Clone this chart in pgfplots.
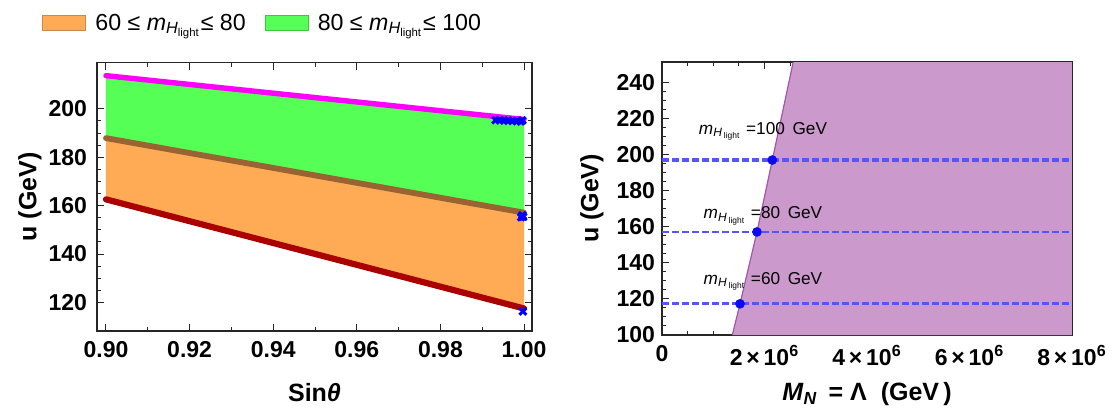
\documentclass[border=0pt]{standalone}
\usepackage{fontspec}
\setmainfont{Liberation Sans}
\usepackage{pgfplots}
\pgfplotsset{compat=1.18}
\definecolor{magL}{RGB}{255,0,255}
\definecolor{greenF}{RGB}{85,255,85}
\definecolor{greenB}{RGB}{60,200,60}
\definecolor{orangeF}{RGB}{255,170,85}
\definecolor{orangeB}{RGB}{205,135,70}
\definecolor{brownL}{RGB}{153,100,50}
\definecolor{redL}{RGB}{170,0,0}
\definecolor{purpF}{RGB}{204,153,204}
\definecolor{purpB}{RGB}{165,85,170}
\definecolor{dashB}{RGB}{85,85,255}
\definecolor{dotB}{RGB}{10,10,240}
\begin{document}
\begin{tikzpicture}
\useasboundingbox (0,0) rectangle (557pt,204.5pt);
\pgfplotsset{
  every axis/.append style={
    scale only axis,
    axis line style={black!85, line width=0.6pt},
    tick style={black!85, line width=0.5pt},
    tick align=inside,
    tick pos=both,
    xticklabel pos=lower, yticklabel pos=left,
    major tick length=3.5pt, minor tick length=2pt,
    ticklabel style={font=\bfseries\fontsize{11.5}{12}\selectfont},
    xticklabel style={yshift=-1.8pt},
    /pgf/number format/assume math mode=true,
    label style={font=\bfseries\fontsize{12.5}{14}\selectfont},
    scaled ticks=false,
  },
}
% ---------------- left panel ----------------
\begin{axis}[
  at={(48.5pt,39pt)}, anchor=south west,
  width=217.5pt, height=134.2pt,
  xmin=0.89785, xmax=1.0019, ymin=108.2, ymax=219.1,
  xtick={0.90,0.92,0.94,0.96,0.98,1.00},
  xticklabels={0.90,0.92,0.94,0.96,0.98,1.00},
  minor x tick num=1,
  ytick={120,140,160,180,200},
  minor y tick num=3,
  yticklabel style={xshift=-1.5pt},
  xlabel={Sin\textit{θ}},
  ylabel={u (GeV)},
  xlabel style={at={(axis description cs:0.5,-0.228)}, anchor=center},
  ylabel style={at={(axis description cs:-0.154,0.5)}, anchor=center},
  legend style={at={(axis description cs:-0.1264,1.146)}, anchor=west,
    draw=none, fill=none, legend columns=2, inner sep=0pt,
    font=\fontsize{11.6}{13}\selectfont,
    nodes={inner xsep=4.5pt},
    /tikz/every even column/.append style={column sep=5pt}},
]
\addlegendimage{legend image code/.code={\draw[fill=orangeF, draw=orangeB, line width=0.5pt] (0pt,-3.75pt) rectangle (21.5pt,3.75pt);}}
\addlegendentry{60 ≤ \textit{m}\textsubscript{\textit{H}\textsubscript{light}}≤ 80}
\addlegendimage{legend image code/.code={\draw[fill=greenF, draw=greenB, line width=0.5pt] (0pt,-3.75pt) rectangle (21.5pt,3.75pt);}}
\addlegendentry{80 ≤ \textit{m}\textsubscript{\textit{H}\textsubscript{light}}≤ 100}
% regions
\addplot[forget plot, fill=greenF, draw=none] coordinates {(0.9,213.7) (1.0,195.6) (1.0,157.1) (0.9,187.9)} -- cycle;
\addplot[forget plot, fill=orangeF, draw=none] coordinates {(0.9,187.9) (1.0,157.1) (1.0,117.5) (0.9,162.6)} -- cycle;
% boundary lines
\addplot[forget plot, magL, line width=2.7pt, line cap=round] coordinates {(0.9,213.7) (0.95,204.65) (1.0,195.6)};
\addplot[forget plot, brownL, line width=2.9pt, line cap=round] coordinates {(0.9,187.9) (0.95,172.5) (1.0,157.1)};
\addplot[forget plot, redL, line width=3.1pt, line cap=round] coordinates {(0.9,162.6) (0.95,140.05) (1.0,117.5)};
% blue crosses
\addplot[forget plot, only marks, mark=x, blue, mark size=2.4pt, line width=1.5pt] coordinates {
 (0.9932,195.3) (0.9942,195.3) (0.9952,195.2) (0.9962,195.1) (0.9972,195.0) (0.9982,194.9) (0.9992,194.8) (0.9996,195.2)
 (0.9993,155.2) (0.9996,156.0) (0.9998,155.4)
 (0.9997,116.3)};
\end{axis}
% ---------------- right panel ----------------
\begin{axis}[
  at={(331pt,37pt)}, anchor=south west,
  width=205pt, height=136.5pt,
  xmin=0, xmax=8e6, ymin=100, ymax=251.5,
  xtick={0,2e6,4e6,6e6,8e6},
  xticklabels={0, 2\,×\,10\textsuperscript{6}, 4\,×\,10\textsuperscript{6}, 6\,×\,10\textsuperscript{6}, 8\,×\,10\textsuperscript{6}},
  minor x tick num=3,
  ytick={100,120,140,160,180,200,220,240},
  minor y tick num=3,
  xlabel={\textit{M}\textsubscript{\textit{N}} \,= Λ \ (GeV\,)},
  ylabel={u (GeV)},
  xlabel style={at={(axis description cs:0.5,-0.218)}, anchor=center},
  ylabel style={at={(axis description cs:-0.171,0.5)}, anchor=center},
  clip=true,
]
\addplot[fill=purpF, draw=none] coordinates {(1.372e6,100) (1.522e6,117.3) (1.853e6,157.2) (2.152e6,197.0) (2.56e6,251.5) (8e6,251.5) (8e6,100)} -- cycle;
\addplot[purpB, line width=0.6pt] coordinates {(1.372e6,100) (1.522e6,117.3) (1.853e6,157.2) (2.152e6,197.0) (2.56e6,251.5)};
\addplot[dashB, line width=1.2pt, dash pattern=on 3.6pt off 1.4pt] coordinates {(0,196.5) (8e6,196.5)};
\addplot[dashB, line width=1.2pt, dash pattern=on 3.6pt off 1.4pt] coordinates {(0,197.7) (8e6,197.7)};
\addplot[dashB, line width=1.2pt, dash pattern=on 3.6pt off 1.4pt] coordinates {(0,157.2) (8e6,157.2)};
\addplot[dashB, line width=1.2pt, dash pattern=on 3.6pt off 1.4pt] coordinates {(0,117.4) (8e6,117.4)};
\addplot[only marks, mark=*, dotB, mark size=2.2pt] coordinates {(1.522e6,117.3) (1.853e6,157.2) (2.152e6,197.1)};
\node[font=\fontsize{8.6}{10}\selectfont] at (axis cs:1.97e6,212.9) {\textit{m}\textsubscript{\textit{H}\,\textsubscript{light}} =100 \,GeV};
\node[font=\fontsize{8.6}{10}\selectfont] at (axis cs:1.97e6,166.1) {\textit{m}\textsubscript{\textit{H}\,\textsubscript{light}} =80 \,GeV};
\node[font=\fontsize{8.6}{10}\selectfont] at (axis cs:1.97e6,129.8) {\textit{m}\textsubscript{\textit{H}\,\textsubscript{light}} =60 \,GeV};
\end{axis}
\end{tikzpicture}
\end{document}
